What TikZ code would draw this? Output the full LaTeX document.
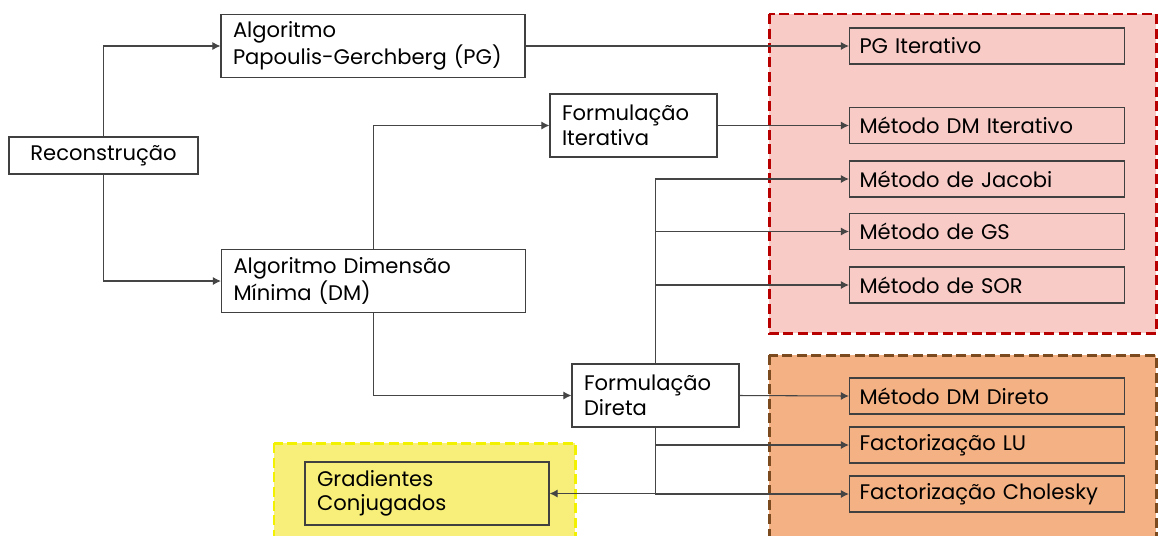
\documentclass[tikz,border=0pt]{standalone}
\usepackage{fontspec}
\setmainfont{Poppins}
\usetikzlibrary{arrows.meta,positioning,backgrounds}
\definecolor{boxline}{HTML}{404040}
\definecolor{wire}{HTML}{454545}
\definecolor{iterline}{HTML}{B80000}
\definecolor{iterfill}{HTML}{F8CBC7}
\definecolor{directline}{HTML}{7B4A1E}
\definecolor{directfill}{HTML}{F4B183}
\definecolor{cgline}{HTML}{F2F200}
\definecolor{cgfill}{HTML}{F7EF7A}
\tikzset{
  stagebox/.style={
    rectangle, draw=boxline, fill=white, line width=0.7pt,
    text width=#1, inner xsep=0.24cm, inner ysep=2pt,
    minimum height=1.26cm, align=left,
    font=\fontsize{12}{14}\selectfont
  },
  stagebox/.default=2.86cm,
  methodbox/.style={
    rectangle, draw=boxline, line width=0.7pt,
    text width=5.1cm, inner xsep=0.2cm, inner ysep=2pt,
    minimum height=0.72cm, align=left,
    font=\fontsize{12}{14}\selectfont
  },
  groupbox/.style={
    draw=#1, line width=1.7pt, dash pattern=on 0.2cm off 0.09cm
  },
  flowarrow/.style={
    -{Latex[length=1.6mm,width=1.6mm]}, draw=wire, line width=0.6pt
  },
}
\begin{document}
\begin{tikzpicture}[x=0.02cm, y=-0.02cm]
    \useasboundingbox[fill=white] (0,0) rectangle (1158,535);

    % Groups of methods (behind the boxes)
    \filldraw[groupbox=iterline, fill=iterfill] (769,14) rectangle (1156,333);
    \filldraw[groupbox=directline, fill=directfill] (769,355) rectangle (1156,545);
    \filldraw[groupbox=cgline, fill=cgfill] (274,443) rectangle (575,545);

    % Main stages
    \node[stagebox=3.3cm, align=center, minimum height=0.74cm] (recon) at (103.5,155.5) {Reconstrução};
    \node[stagebox=5.6cm] (pg) at (373,46) {Algoritmo\\Papoulis-Gerchberg (PG)};
    \node[stagebox=5.6cm] (dm) at (373.5,281) {Algoritmo Dimensão\\Mínima (DM)};
    \node[stagebox] (iter) at (633.5,125.5) {Formulação\\Iterativa};
    \node[stagebox] (direta) at (655.5,395.5) {Formulação\\Direta};
    \node[stagebox=4.4cm, fill=none] (gc) at (427,493.5) {Gradientes\\Conjugados};

    % Iterative methods
    \node[methodbox] (pgit) at (987,46) {PG Iterativo};
    \node[methodbox] (dmit) at (987,125.5) {Método DM Iterativo};
    \node[methodbox] (jacobi) at (987,179) {Método de Jacobi};
    \node[methodbox] (gs) at (987,231.5) {Método de GS};
    \node[methodbox] (sor) at (987,285) {Método de SOR};

    % Direct methods
    \node[methodbox] (dmdir) at (987,396) {Método DM Direto};
    \node[methodbox] (lu) at (987,445) {Factorização LU};
    \node[methodbox] (chol) at (987,494) {Factorização Cholesky};

    % Arrows
    \draw[flowarrow] (recon.north) |- (pg.west);
    \draw[flowarrow] (recon.south) |- (dm.west);
    \draw[flowarrow] (pg.east) -- (pgit.west);
    \draw[flowarrow] (dm.north) |- (iter.west);
    \draw[flowarrow] (dm.south) |- (direta.west);
    \draw[flowarrow] (iter.east) -- (dmit.west);
    \draw[flowarrow] (direta.north) |- (jacobi.west);
    \draw[flowarrow] (direta.north) |- (gs.west);
    \draw[flowarrow] (direta.north) |- (sor.west);
    \draw[flowarrow] (direta.east) -- (dmdir.west);
    \draw[flowarrow] (direta.south) |- (lu.west);
    \draw[flowarrow] (direta.south) |- (chol.west);
    \draw[flowarrow] (direta.south) |- (gc.east);
\end{tikzpicture}
\end{document}
